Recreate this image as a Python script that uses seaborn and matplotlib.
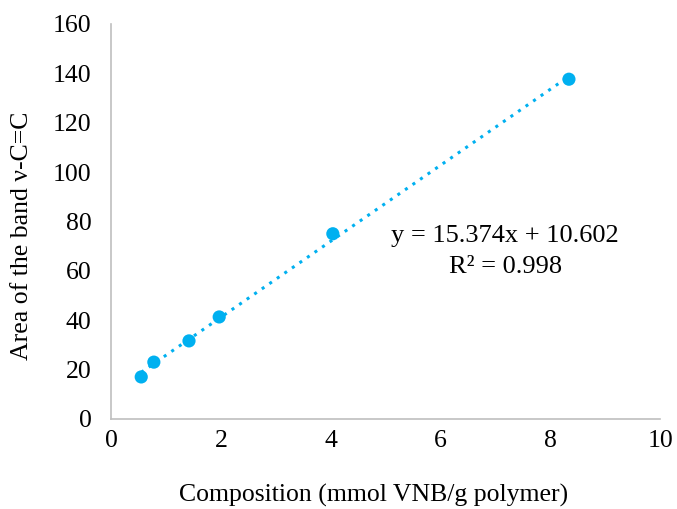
import matplotlib
matplotlib.use("Agg")
import matplotlib.pyplot as plt
import seaborn as sns
import pandas as pd

composition = [0.55, 0.78, 1.42, 1.97, 4.04, 8.34]
area = [17.0, 23.0, 31.6, 41.3, 75.0, 137.6]
eq_text = "y = 15.374x + 10.602"
r2_text = "R² = 0.998"

sns.set_theme(style="white")
plt.rcParams['font.family'] = ['Liberation Serif', 'DejaVu Serif']
plt.rcParams['text.color'] = 'black'
plt.rcParams['axes.labelcolor'] = 'black'

df = pd.DataFrame({"x": composition, "y": area})
color = "#00B0F0"

fig = plt.figure(figsize=(6.77, 5.09), dpi=100)
ax = fig.add_axes([0.164, 0.177, 0.811, 0.776])

sns.regplot(data=df, x="x", y="y", ax=ax, scatter=False, ci=None, truncate=True,
            color=color, line_kws=dict(linestyle=(0, (1, 2)), linewidth=2.2))
sns.scatterplot(data=df, x="x", y="y", ax=ax, color=color, s=90, edgecolor="none", zorder=3)

ax.set_xlim(0, 10)
ax.set_ylim(0, 160)
ax.set_xticks(range(0, 11, 2))
ax.set_yticks(range(0, 161, 20))
ax.tick_params(axis="y", length=0, labelsize=18.5, colors="black", pad=14)
ax.tick_params(axis="x", length=0, labelsize=18.5, colors="black", pad=8)
for s in ["top", "right"]:
    ax.spines[s].set_visible(False)
for s in ["left", "bottom"]:
    ax.spines[s].set_color("#BFBFBF")
    ax.spines[s].set_linewidth(1.2)

ax.set_xlabel("Composition (mmol VNB/g polymer)", fontsize=18.5)
ax.set_ylabel("Area of the band ν-C=C", fontsize=18.5)
ax.xaxis.set_label_coords(0.479, -0.165)
ax.yaxis.set_label_coords(-0.162, 0.463)
ax.yaxis.label.set_va("center")

ax.text(7.18, 74, eq_text, ha="center", va="center", fontsize=19)
ax.text(7.18, 61.5, r2_text, ha="center", va="center", fontsize=19)

fig.savefig("out.png", dpi=100)
